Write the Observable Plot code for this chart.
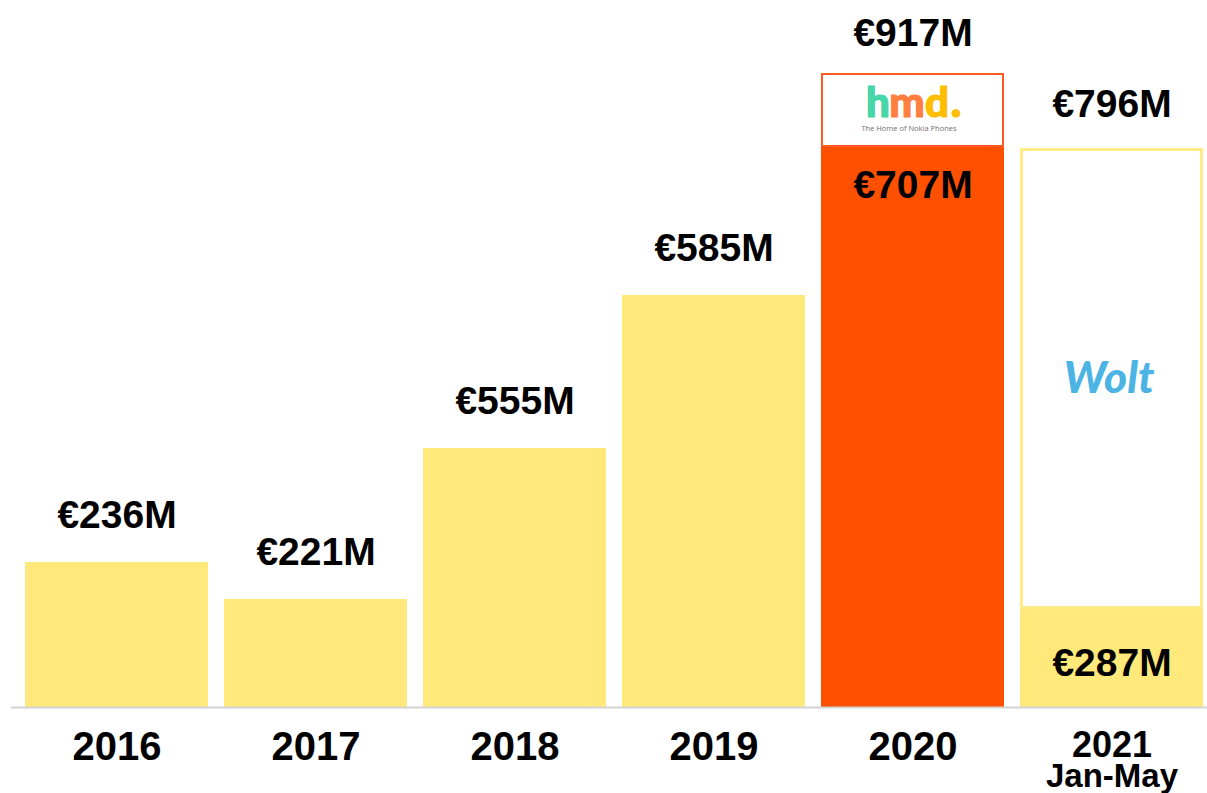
<!DOCTYPE html>
<html>
<head>
<meta charset="utf-8">
<script src="https://cdn.jsdelivr.net/npm/d3@7"></script>
<script src="https://cdn.jsdelivr.net/npm/@observablehq/plot@0.6"></script>
<style>
  html, body { margin: 0; padding: 0; background: #fff; }
  #chart svg { display: block; }
</style>
</head>
<body>
<div id="chart"></div>
<script>
// ---- Data (the bars are not drawn to scale in the original) ----
const years = ["2016", "2017", "2018", "2019", "2020", "2021"];
const yearNotes = ["", "", "", "", "", "Jan-May"];
const revenueLabels = ["€236M", "€221M", "€555M", "€585M", "€707M", "€287M"];
const barHeights = [145, 108, 259, 412, 560, 98];          // visual bar heights
const labelInside = [false, false, false, false, true, true];

const extraYears = ["2020", "2021"];
const extraTops = [634, 559];                               // visual top of the stacked box
const extraLabels = ["€917M", "€796M"];
const acquirers = ["hmd", "Wolt"];

// ---- Tables built from the arrays ----
const bars = years.map((year, i) => ({
  year, note: yearNotes[i], label: revenueLabels[i], h: barHeights[i], inside: labelInside[i]
}));
const extras = extraYears.map((year, i) => ({
  year, base: barHeights[years.indexOf(year)], top: extraTops[i], label: extraLabels[i], who: acquirers[i]
}));

const YELLOW = "#FFE97A";
const ORANGE = "#FF5000";
const FONT = "'Liberation Sans', Arial, Helvetica, sans-serif";
const LOGO = "Lato, 'Open Sans', sans-serif";

const hmd = extras.filter(d => d.who === "hmd");
const wolt = extras.filter(d => d.who === "Wolt");
const lastYear = years[years.length - 1];

const valueText = {fontSize: 39, fontWeight: "bold", fill: "black", lineAnchor: "middle"};
const logoLetter = (ch, dx, color, size = 42) => Plot.text(hmd, {
  x: "year", y: "top", text: () => ch, dx, dy: 43, lineAnchor: "bottom",
  fontSize: size, fontWeight: "900", fontFamily: LOGO, fill: color, stroke: color, strokeWidth: 1.2
});

const chart = Plot.plot({
  width: 1207,
  height: 793,
  marginTop: 0,
  marginBottom: 86,
  marginLeft: 11,
  marginRight: 0,
  x: {domain: years, range: [15, 1213], paddingInner: 0.08, paddingOuter: 0.04, axis: null},
  y: {domain: [0, 707], axis: null},
  style: {fontFamily: FONT, background: "white", overflow: "visible"},
  marks: [
    // stacked boxes (hmd / Wolt)
    Plot.barY(hmd, {x: "year", y1: "base", y2: "top", fill: "white", stroke: "#FF5A1F", strokeWidth: 2, inset: 1}),
    Plot.barY(wolt, {x: "year", y1: "base", y2: "top", fill: "white", stroke: "#FFEB88", strokeWidth: 3, inset: 1.5}),
    // main bars
    Plot.barY(bars, {x: "year", y: "h", fill: d => d.year === "2020" ? ORANGE : YELLOW}),
    // baseline
    Plot.ruleY([0], {stroke: "#D3D3D3", strokeWidth: 2}),
    // value labels above bars
    Plot.text(bars.filter(d => !d.inside), {x: "year", y: "h", text: "label", dy: -47, ...valueText}),
    // value labels inside bars
    Plot.text(bars.filter(d => d.inside && d.year === "2020"), {x: "year", y: "h", text: "label", dy: 38, ...valueText}),
    Plot.text(bars.filter(d => d.inside && d.year !== "2020"), {x: "year", y: d => d.h / 2, text: "label", dy: 5, ...valueText}),
    // totals above stacked boxes
    Plot.text(hmd, {x: "year", y: "top", text: "label", dy: -40, ...valueText}),
    Plot.text(wolt, {x: "year", y: "top", text: "label", dy: -44, ...valueText}),
    // hmd logo
    logoLetter("h", -35, "#46D6A8"),
    logoLetter("m", -6, "#FF7F41"),
    logoLetter("d", 24, "#FFBE00"),
    logoLetter(".", 43, "#FFBE00", 46),
    Plot.text(hmd, {x: "year", y: "top", text: () => "The Home of Nokia Phones", dx: -4, dy: 55, lineAnchor: "middle", fontSize: 7.5, fontFamily: "'Open Sans', sans-serif", fill: "#707070"}),
    // Wolt logo
    Plot.text(wolt, {x: "year", y: d => (d.base + d.top) / 2, text: "who", dx: -3, dy: 0, lineAnchor: "middle", fontSize: 44, fontWeight: "900", fontStyle: "italic", fontFamily: LOGO, fill: "#4CB4E4"}),
    // year labels
    Plot.text(bars.filter(d => d.year !== lastYear), {x: "year", y: 0, text: "year", dy: 40, fontSize: 40, fontWeight: "bold", fill: "black", lineAnchor: "middle"}),
    Plot.text(bars.filter(d => d.year === lastYear), {x: "year", y: 0, text: "year", dy: 38, fontSize: 36, fontWeight: "bold", fill: "black", lineAnchor: "middle"}),
    Plot.text(bars.filter(d => d.note), {x: "year", y: 0, text: "note", dy: 69, fontSize: 33, fontWeight: "bold", fill: "black", lineAnchor: "middle"})
  ]
});
document.getElementById("chart").append(chart);
</script>
</body>
</html>
